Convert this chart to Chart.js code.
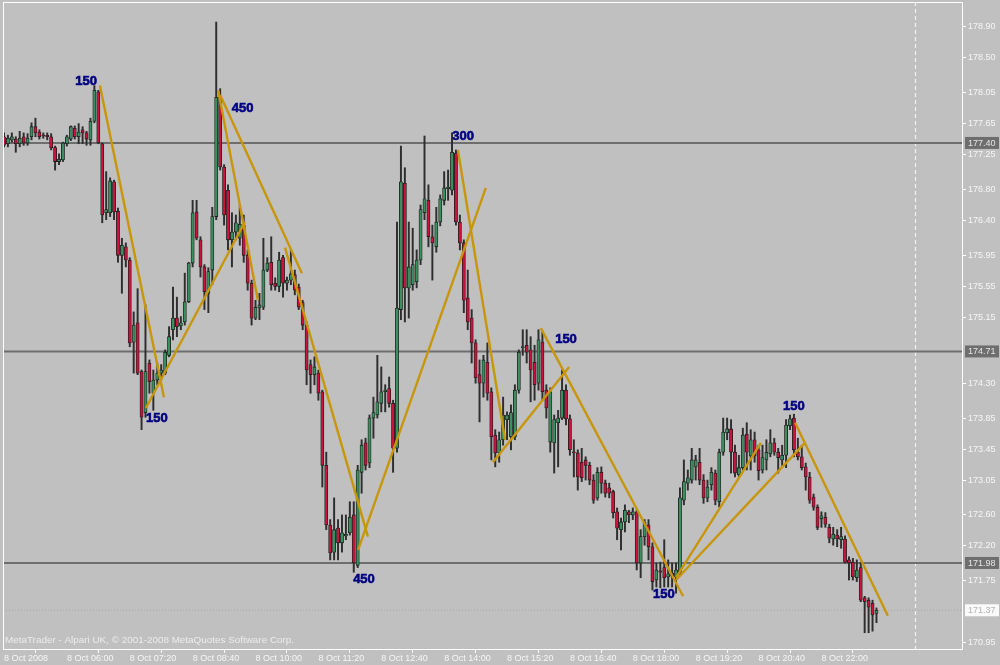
<!DOCTYPE html>
<html>
<head>
<meta charset="utf-8">
<script src="https://cdn.jsdelivr.net/npm/chart.js@4.4.0/dist/chart.umd.min.js"></script>
<style>
  html, body { margin: 0; padding: 0; background: #c0c0c0; }
</style>
</head>
<body>
<canvas id="chart" width="1000" height="665"></canvas>
<script>
// 5-minute candles, 8 Oct 2008
const openP = [
  177.48, 177.39, 177.44, 177.45, 177.39, 177.48, 177.40, 177.48, 177.61, 177.54,
  177.50, 177.50, 177.48, 177.34, 177.16, 177.18, 177.39, 177.45, 177.59, 177.48,
  177.57, 177.53, 177.44, 177.68, 178.06, 177.39, 176.50, 176.50, 176.90, 176.52,
  175.95, 176.06, 175.89, 174.83, 175.08, 174.45, 173.92, 174.56, 174.17, 174.34,
  174.43, 174.43, 174.66, 174.99, 175.14, 175.04, 175.09, 175.35, 175.85, 176.51,
  176.15, 175.80, 175.46, 175.76, 176.45, 177.99, 177.09, 176.79, 176.15, 176.25,
  176.17, 176.34, 175.95, 175.59, 175.14, 175.27, 175.28, 175.76, 175.86, 175.59,
  175.55, 175.92, 175.59, 175.63, 175.70, 175.54, 175.34, 175.05, 174.54, 174.41,
  174.43, 174.19, 173.24, 172.47, 172.12, 172.43, 172.24, 172.33, 172.37, 172.60,
  171.95, 173.15, 173.53, 173.27, 173.85, 173.89, 174.04, 174.19, 174.23, 174.04,
  173.46, 175.25, 176.88, 175.53, 175.57, 175.61, 175.89, 176.50, 176.66, 176.19,
  176.06, 176.38, 176.66, 176.81, 176.79, 177.27, 176.38, 176.11, 175.40, 175.14,
  174.82, 174.41, 174.30, 174.57, 174.19, 173.63, 173.40, 173.57, 173.83, 173.61,
  173.61, 174.21, 174.76, 174.79, 174.73, 174.57, 174.30, 174.83, 174.21, 173.54,
  173.53, 173.79, 173.85, 174.21, 173.84, 173.41, 173.40, 173.28, 173.31, 173.24,
  173.05, 172.82, 173.15, 173.01, 172.95, 172.90, 172.64, 172.41, 172.51, 172.64,
  172.60, 172.64, 171.98, 172.32, 172.47, 172.19, 171.76, 171.88, 171.92, 171.80,
  171.85, 171.80, 171.86, 172.79, 173.01, 173.05, 173.22, 173.28, 173.05, 172.82,
  172.99, 173.14, 172.77, 173.41, 173.66, 173.71, 173.41, 173.12, 173.21, 173.64,
  173.36, 173.57, 173.44, 173.18, 173.31, 173.39, 173.53, 173.41, 173.31, 173.37,
  173.75, 173.85, 173.41, 173.35, 173.22, 173.09, 172.83, 172.70, 172.55, 172.57,
  172.44, 172.29, 172.34, 172.28, 172.29, 172.02, 171.99, 171.79, 171.92, 171.53,
  171.50, 171.46, 171.33
];
const highP = [
  177.53, 177.50, 177.53, 177.48, 177.55, 177.53, 177.52, 177.66, 177.72, 177.57,
  177.53, 177.53, 177.52, 177.36, 177.26, 177.41, 177.50, 177.62, 177.62, 177.65,
  177.61, 177.55, 177.72, 178.14, 178.08, 177.40, 177.03, 176.95, 176.92, 176.56,
  176.17, 176.11, 175.92, 175.22, 175.52, 174.47, 175.31, 174.60, 174.47, 174.56,
  174.54, 174.73, 175.03, 175.54, 175.41, 175.16, 175.72, 175.86, 176.66, 176.66,
  176.19, 175.83, 175.79, 176.57, 178.96, 178.10, 177.12, 176.86, 176.50, 176.47,
  176.60, 176.47, 176.02, 175.63, 175.37, 175.46, 176.17, 175.92, 176.19, 175.66,
  175.99, 175.95, 175.67, 176.02, 175.76, 175.58, 175.37, 175.09, 174.60, 174.64,
  174.47, 174.21, 173.41, 172.54, 172.82, 172.54, 172.60, 172.60, 172.77, 172.77,
  173.24, 173.57, 173.59, 173.89, 174.12, 174.66, 174.51, 174.28, 174.38, 174.08,
  176.38, 177.36, 177.08, 176.38, 176.30, 176.02, 176.60, 177.49, 176.86, 176.34,
  176.57, 176.73, 177.03, 177.05, 177.53, 177.31, 176.47, 176.15, 175.76, 175.25,
  174.86, 174.60, 174.66, 174.82, 174.24, 173.70, 173.67, 174.12, 173.93, 174.02,
  174.28, 174.73, 174.99, 174.99, 174.90, 174.79, 174.99, 174.96, 174.28, 174.24,
  173.89, 173.95, 174.47, 174.28, 173.89, 173.57, 173.44, 173.46, 173.35, 173.28,
  173.12, 173.21, 173.22, 173.05, 173.01, 172.92, 172.69, 172.56, 172.73, 172.66,
  172.69, 172.66, 172.41, 172.54, 172.54, 172.24, 171.98, 171.99, 172.28, 172.02,
  171.98, 171.98, 172.95, 173.31, 173.18, 173.46, 173.37, 173.46, 173.12, 173.05,
  173.21, 173.18, 173.45, 173.85, 173.85, 173.83, 173.50, 173.37, 173.72, 173.79,
  173.70, 173.67, 173.50, 173.50, 173.57, 173.70, 173.59, 173.46, 173.50, 173.83,
  173.89, 173.90, 173.59, 173.50, 173.27, 173.15, 172.87, 172.73, 172.64, 172.63,
  172.48, 172.44, 172.41, 172.44, 172.33, 172.06, 172.04, 172.02, 171.99, 171.55,
  171.53, 171.50, 171.40
];
const lowP = [
  177.35, 177.35, 177.41, 177.28, 177.35, 177.37, 177.37, 177.44, 177.48, 177.45,
  177.46, 177.44, 177.31, 177.05, 177.12, 177.16, 177.36, 177.43, 177.45, 177.39,
  177.39, 177.37, 177.37, 177.66, 177.39, 176.37, 176.41, 176.45, 176.41, 175.86,
  175.46, 175.80, 174.77, 174.43, 174.41, 173.70, 173.86, 174.17, 173.95, 174.28,
  174.34, 174.41, 174.64, 174.86, 174.90, 174.99, 175.05, 175.34, 175.80, 176.15,
  175.67, 175.25, 175.21, 175.57, 176.41, 177.05, 176.34, 176.02, 175.80, 176.15,
  176.08, 175.86, 175.50, 175.05, 175.12, 175.12, 175.25, 175.74, 175.50, 175.50,
  175.48, 175.41, 175.50, 175.57, 175.44, 175.25, 174.99, 174.28, 174.17, 174.28,
  174.08, 172.96, 172.41, 172.02, 172.02, 172.02, 172.12, 172.28, 172.34, 171.86,
  171.92, 172.88, 173.18, 173.21, 173.59, 173.85, 173.93, 173.93, 173.99, 173.15,
  173.41, 175.12, 175.09, 175.14, 175.50, 175.53, 175.83, 176.41, 176.06, 175.63,
  175.99, 176.33, 176.60, 176.66, 176.73, 176.34, 176.02, 175.21, 174.99, 174.56,
  174.30, 173.80, 174.12, 174.08, 173.31, 173.22, 173.28, 173.50, 173.57, 173.44,
  173.57, 174.17, 174.66, 174.56, 174.06, 174.08, 174.21, 174.08, 173.85, 173.41,
  173.14, 173.22, 173.83, 173.76, 173.37, 173.09, 172.92, 173.03, 173.05, 172.99,
  172.75, 172.79, 172.88, 172.83, 172.82, 172.56, 172.28, 172.15, 172.38, 172.50,
  172.54, 171.89, 171.79, 172.21, 172.02, 171.63, 171.67, 171.66, 171.67, 171.67,
  171.67, 171.59, 171.83, 172.73, 172.92, 173.01, 173.05, 172.99, 172.75, 172.77,
  172.92, 172.73, 172.70, 173.37, 173.57, 173.14, 173.09, 173.09, 173.18, 173.18,
  173.18, 173.28, 173.05, 173.14, 173.18, 173.35, 173.37, 173.14, 173.24, 173.21,
  173.70, 173.35, 173.31, 173.18, 172.92, 172.75, 172.66, 172.41, 172.44, 172.44,
  172.24, 172.21, 172.19, 172.17, 171.98, 171.76, 171.76, 171.74, 171.48, 171.08,
  171.08, 171.10, 171.21
];
const closeP = [
  177.37, 177.46, 177.48, 177.39, 177.46, 177.40, 177.46, 177.61, 177.53, 177.48,
  177.49, 177.48, 177.34, 177.16, 177.19, 177.40, 177.48, 177.61, 177.48, 177.54,
  177.53, 177.45, 177.68, 178.08, 177.40, 176.47, 176.54, 176.91, 176.51, 175.95,
  176.08, 175.89, 174.82, 175.05, 174.43, 173.86, 174.45, 174.32, 174.34, 174.43,
  174.47, 174.70, 174.90, 175.14, 175.03, 175.08, 175.35, 175.85, 176.50, 176.17,
  175.80, 175.48, 175.74, 176.45, 177.99, 177.09, 176.47, 176.15, 176.25, 176.37,
  176.35, 175.95, 175.59, 175.14, 175.28, 175.31, 175.76, 175.85, 175.57, 175.55,
  175.89, 175.59, 175.63, 175.71, 175.50, 175.28, 175.05, 174.47, 174.41, 174.51,
  174.17, 173.24, 172.47, 172.11, 172.41, 172.24, 172.37, 172.35, 172.57, 171.98,
  173.18, 173.50, 173.24, 173.85, 173.92, 174.06, 174.19, 174.21, 174.04, 173.46,
  175.27, 176.90, 175.53, 175.80, 175.83, 175.89, 176.54, 176.68, 176.19, 176.11,
  176.38, 176.68, 176.82, 176.83, 177.28, 176.38, 176.11, 175.37, 175.09, 174.82,
  174.37, 174.30, 174.60, 174.17, 173.61, 173.40, 173.57, 173.89, 173.89, 173.92,
  174.21, 174.70, 174.77, 174.70, 174.47, 174.28, 174.86, 174.19, 173.98, 174.19,
  173.83, 173.85, 174.21, 173.84, 173.44, 173.40, 173.09, 173.08, 173.24, 173.05,
  172.79, 173.15, 173.01, 172.88, 172.88, 172.63, 172.43, 172.51, 172.66, 172.60,
  172.64, 171.98, 172.32, 172.50, 172.19, 171.74, 171.89, 171.86, 171.79, 171.84,
  171.81, 171.89, 172.82, 173.03, 173.08, 173.31, 173.31, 173.05, 172.82, 172.96,
  173.15, 172.79, 173.41, 173.67, 173.71, 173.41, 173.14, 173.21, 173.63, 173.41,
  173.57, 173.36, 173.17, 173.34, 173.41, 173.53, 173.41, 173.34, 173.37, 173.76,
  173.84, 173.44, 173.35, 173.21, 173.09, 172.79, 172.70, 172.44, 172.59, 172.48,
  172.30, 172.35, 172.29, 172.32, 171.99, 171.98, 171.80, 171.89, 171.50, 171.48,
  171.41, 171.31, 171.37
];

// time axis: one label every 16 bars (80 min)
const timeTickBars = [0, 16, 32, 48, 64, 80, 96, 112, 128, 144, 160, 176, 192, 208];
const timeTickLabels = ['8 Oct 2008', '8 Oct 06:00', '8 Oct 07:20', '8 Oct 08:40', '8 Oct 10:00',
  '8 Oct 11:20', '8 Oct 12:40', '8 Oct 14:00', '8 Oct 15:20', '8 Oct 16:40', '8 Oct 18:00',
  '8 Oct 19:20', '8 Oct 20:40', '8 Oct 22:00'];

// price axis
const priceTicks = [178.90, 178.50, 178.05, 177.65, 177.25, 176.80, 176.40, 175.95, 175.55,
  175.15, 174.30, 173.85, 173.45, 173.05, 172.60, 172.20, 171.75, 170.95];
const levels = [177.40, 174.71, 171.98];
const bidPrice = 171.37;

// zigzag segments: [bar1, price1, bar2, price2]
const zigzag = [
  [24.4, 178.14, 40.7, 174.12],
  [36.1, 173.98, 61.3, 176.38],
  [54.5, 178.08, 64.6, 175.37],
  [55.0, 178.02, 75.8, 175.72],
  [71.5, 176.05, 92.6, 172.32],
  [90.1, 172.15, 122.6, 176.82],
  [115.5, 177.31, 127.5, 173.57],
  [124.4, 173.28, 143.8, 174.51],
  [136.6, 175.01, 172.8, 171.55],
  [171.0, 171.79, 192.6, 173.53],
  [171.0, 171.76, 203.8, 173.53],
  [201.3, 173.79, 224.9, 171.30]
];
const zzLabelText = ['150', '450', '150', '300', '450', '150', '150', '150'];
const zzLabelBar = [20.9, 60.7, 38.9, 116.8, 91.6, 143.0, 167.9, 201.0];
const zzLabelPrice = [178.19, 177.85, 173.85, 177.48, 171.77, 174.86, 171.57, 174.00];

const X_MIN = -0.254, X_MAX = 244.02;
const Y_MIN = 170.87, Y_MAX = 179.219;
const SHIFT_BAR = 231.8;

const BULL = '#3a8f5e';
const BEAR = '#c8143c';
const AXIS_TEXT = '#f6f6f6';
const FONT = '"Liberation Sans", Arial, sans-serif';

const bars = openP.map((o, i) => i);
const wickData = bars.map(i => ({ x: i, y: [lowP[i], highP[i]] }));
const bodyData = bars.map(i => ({ x: i, y: [openP[i], closeP[i]] }));
const bodyColors = bars.map(i => closeP[i] >= openP[i] ? BULL : BEAR);

const datasets = [];

levels.forEach(lv => {
  datasets.push({
    type: 'line',
    data: [{ x: X_MIN, y: lv }, { x: X_MAX, y: lv }],
    borderColor: '#6e6e6e',
    borderWidth: 2,
    pointRadius: 0,
    order: 10
  });
});
datasets.push({
  type: 'line',
  data: [{ x: X_MIN, y: bidPrice }, { x: X_MAX, y: bidPrice }],
  borderColor: '#a4a4a4',
  borderWidth: 1,
  borderDash: [1, 2],
  pointRadius: 0,
  order: 10
});

datasets.push({
  type: 'bar',
  data: wickData,
  backgroundColor: '#2e2e2e',
  barThickness: 1.3,
  grouped: false,
  order: 8
});
datasets.push({
  type: 'bar',
  data: bodyData,
  backgroundColor: bodyColors,
  borderColor: '#1c1c1c',
  borderWidth: 0.8,
  borderSkipped: false,
  barThickness: 3.2,
  minBarLength: 1,
  grouped: false,
  order: 6
});

zigzag.forEach(seg => {
  datasets.push({
    type: 'line',
    data: [{ x: seg[0], y: seg[1] }, { x: seg[2], y: seg[3] }],
    borderColor: '#c8960a',
    borderWidth: 2.4,
    pointRadius: 0,
    order: 1
  });
});

const decor = {
  id: 'decor',
  beforeDraw(chart) {
    const ctx = chart.ctx;
    ctx.save();
    ctx.fillStyle = '#c0c0c0';
    ctx.fillRect(0, 0, chart.width, chart.height);
    ctx.restore();
  },
  beforeDatasetsDraw(chart) {
    const ctx = chart.ctx, a = chart.chartArea;
    const x = Math.round(chart.scales.x.getPixelForValue(SHIFT_BAR)) + 0.5;
    ctx.save();
    ctx.strokeStyle = '#f2f2f2';
    ctx.lineWidth = 1.2;
    ctx.setLineDash([4, 3]);
    ctx.beginPath();
    ctx.moveTo(x, a.top);
    ctx.lineTo(x, a.bottom);
    ctx.stroke();
    ctx.restore();
  },
  afterDatasetsDraw(chart) {
    const ctx = chart.ctx, xs = chart.scales.x, ys = chart.scales.y;
    ctx.save();
    ctx.font = 'bold 13px ' + FONT;
    ctx.fillStyle = '#000080';
    ctx.strokeStyle = '#000080';
    ctx.lineWidth = 0.6;
    ctx.textAlign = 'center';
    ctx.textBaseline = 'middle';
    zzLabelText.forEach((t, i) => {
      const px = xs.getPixelForValue(zzLabelBar[i]);
      const py = ys.getPixelForValue(zzLabelPrice[i]);
      ctx.fillText(t, px, py);
      ctx.strokeText(t, px, py);
    });
    ctx.restore();
  },
  afterDraw(chart) {
    const ctx = chart.ctx, a = chart.chartArea, ys = chart.scales.y;
    ctx.save();
    // frame
    ctx.strokeStyle = '#ffffff';
    ctx.lineWidth = 1;
    ctx.strokeRect(a.left + 0.5, a.top + 0.5, a.right - a.left - 1, a.bottom - a.top);
    // level price boxes on the axis
    ctx.font = '9px ' + FONT;
    ctx.textBaseline = 'middle';
    ctx.textAlign = 'left';
    levels.forEach(lv => {
      const y = ys.getPixelForValue(lv);
      ctx.fillStyle = '#6e6e6e';
      ctx.fillRect(a.right + 2, y - 6, 34, 12);
      ctx.fillStyle = '#e6e6e6';
      ctx.fillText(lv.toFixed(2), a.right + 5, y + 0.5);
    });
    const yb = ys.getPixelForValue(bidPrice);
    ctx.fillStyle = '#fafafa';
    ctx.fillRect(a.right + 2, yb - 6, 34, 12);
    ctx.fillStyle = '#b4b4b4';
    ctx.fillText(bidPrice.toFixed(2), a.right + 5, yb + 0.5);
    // copyright line
    ctx.font = '9.9px ' + FONT;
    ctx.fillStyle = '#ececec';
    ctx.textBaseline = 'alphabetic';
    ctx.fillText('MetaTrader - Alpari UK, \u00a9 2001-2008 MetaQuotes Software Corp.', a.left + 2, a.bottom - 6);
    ctx.restore();
  }
};

new Chart(document.getElementById('chart'), {
  type: 'bar',
  data: { datasets: datasets },
  options: {
    responsive: false,
    animation: false,
    devicePixelRatio: 1,
    layout: { padding: { left: 3, top: 2, right: 0, bottom: 0 } },
    plugins: {
      legend: { display: false },
      tooltip: { enabled: false }
    },
    scales: {
      x: {
        type: 'linear',
        min: X_MIN,
        max: X_MAX,
        offset: false,
        afterBuildTicks: s => { s.ticks = timeTickBars.map(v => ({ value: v })); },
        afterFit: s => { s.height = 16; s.paddingLeft = 0; s.paddingRight = 0; },
        ticks: {
          autoSkip: false,
          maxRotation: 0,
          align: 'start',
          padding: 0,
          color: AXIS_TEXT,
          font: { family: FONT, size: 9 },
          callback: v => timeTickLabels[timeTickBars.indexOf(v)]
        },
        grid: { drawOnChartArea: false, drawTicks: true, tickLength: 4, color: '#ffffff' },
        border: { display: false }
      },
      y: {
        type: 'linear',
        position: 'right',
        min: Y_MIN,
        max: Y_MAX,
        afterBuildTicks: s => { s.ticks = priceTicks.map(v => ({ value: v })); },
        afterFit: s => { s.width = 37; s.paddingTop = 0; s.paddingBottom = 0; },
        ticks: {
          padding: 2,
          color: AXIS_TEXT,
          font: { family: FONT, size: 9 },
          callback: v => v.toFixed(2)
        },
        grid: { drawOnChartArea: false, drawTicks: true, tickLength: 3, color: '#ffffff' },
        border: { display: false }
      }
    }
  },
  plugins: [decor]
});
</script>
</body>
</html>
